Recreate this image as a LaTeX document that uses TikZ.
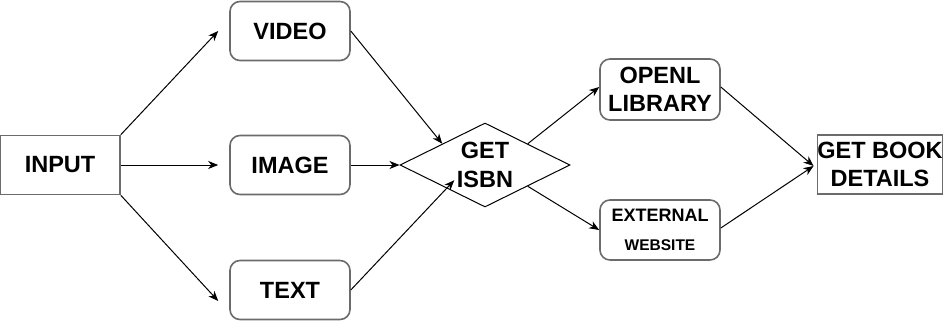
\documentclass[tikz,border=0pt]{standalone}
\usepackage{fontspec}
\setmainfont{Liberation Sans}
\usetikzlibrary{shapes.geometric,arrows.meta}
\definecolor{boxline}{rgb}{0.42,0.42,0.42}
\begin{document}
\begin{tikzpicture}[x=1pt,y=-1pt,
  every node/.style={font=\bfseries\fontsize{23.5}{28.5}\selectfont, align=center},
  plainbox/.style={draw=boxline, line width=1.6pt, minimum width=120pt, minimum height=59pt, inner sep=0pt},
  roundbox/.style={plainbox, rounded corners=10pt},
  decision/.style={draw=black, line width=1pt, shape=diamond, minimum width=170pt, minimum height=84pt, inner sep=0pt},
  flow/.style={draw=black, line width=1pt, -{Stealth[length=10pt,width=8pt,inset=3pt]}}
]
\useasboundingbox (0,0) rectangle (945,321);

% nodes
\node[plainbox] (input) at (60,165) {INPUT};
\node[roundbox] (video) at (290,31) {VIDEO};
\node[roundbox] (image) at (290,165) {IMAGE};
\node[roundbox] (text)  at (290,290) {TEXT};
\node[decision] (isbn) at (485,165) {};
\node (isbnlabel) at (isbn) {GET\\ISBN};
\node[roundbox, minimum height=61pt] (openl) at (660,89.5) {OPENL\\LIBRARY};
\node[roundbox, minimum height=60pt] (ext) at (660,230) {\fontsize{18}{25.5}\selectfont EXTERNAL\\\fontsize{15.5}{25.5}\selectfont WEBSITE};
\node[plainbox] (book) at (880,164.5) {GET BOOK\\DETAILS};

% connectors
\draw[flow] (input.north east) -- ([xshift=-11pt]video.west);
\draw[flow] (input.east) -- ([xshift=-11pt]image.west);
\draw[flow] (input.south east) -- ([xshift=-11pt,yshift=-11pt]text.west);
\draw[flow] (video.east) -- (isbn.north west);
\draw[flow] (image.east) -- (isbn.west);
\draw[flow] (text.east) -- ([xshift=12pt,yshift=6pt]isbn.south west);
\draw[flow] (isbn.north east) -- ([yshift=2.5pt]openl.west);
\draw[flow] (isbn.south east) -- (ext.west);
\draw[flow] ([yshift=2.5pt]openl.east) -- ([xshift=-3pt,yshift=-1.5pt]book.west);
\draw[flow] ([yshift=2pt]ext.east) -- ([xshift=-3pt,yshift=-1.5pt]book.west);
\end{tikzpicture}
\end{document}
